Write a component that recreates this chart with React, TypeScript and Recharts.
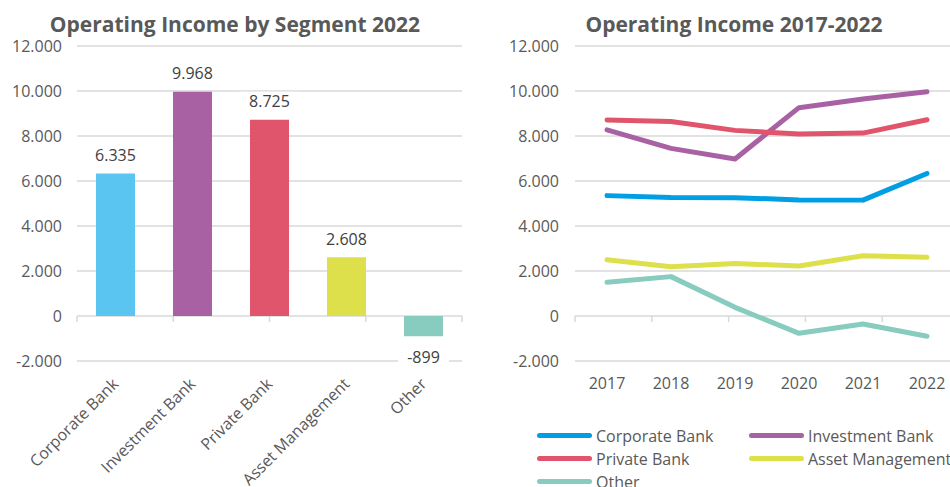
import React from 'react';
import {
  BarChart, Bar, XAxis, YAxis, CartesianGrid, LabelList, Cell,
  LineChart, Line, Legend, ReferenceLine,
} from 'recharts';

const segments = ['Corporate Bank', 'Investment Bank', 'Private Bank', 'Asset Management', 'Other'];
const income2022 = [6335, 9968, 8725, 2608, -899];
const barColors = ['#5bc5f2', '#a862a4', '#e0556b', '#dde04a', '#88cbbf'];

const years = ['2017', '2018', '2019', '2020', '2021', '2022'];
const corporateBank = [5350, 5270, 5260, 5160, 5150, 6335];
const investmentBank = [8270, 7450, 6980, 9260, 9640, 9968];
const privateBank = [8710, 8640, 8250, 8090, 8130, 8725];
const assetManagement = [2500, 2190, 2330, 2220, 2680, 2608];
const other = [1500, 1750, 385, -770, -356, -899];
const lineColors = ['#009ee2', '#a862a4', '#e0556b', '#dde04a', '#88cbbf'];

const yTicks = [-2000, 0, 2000, 4000, 6000, 8000, 10000, 12000];
const barEdges = [0, 1, 2, 3, 4, 5];
const lineEdges = [0, 1, 2, 3, 4, 5];

const FONT = '"Open Sans", sans-serif';
const GRID = '#d9d9d9';
const TEXT = '#595959';
const FS = 16;

const fmt = (v: number) => {
  const s = Math.abs(Math.round(v)).toString().replace(/\B(?=(\d{3})+(?!\d))/g, '.');
  return (v < 0 ? '-' : '') + s;
};

const barData = segments.map((name, i) => ({ name, value: income2022[i] }));
const lineData = years.map((year, i) => ({
  year,
  'Corporate Bank': corporateBank[i],
  'Investment Bank': investmentBank[i],
  'Private Bank': privateBank[i],
  'Asset Management': assetManagement[i],
  Other: other[i],
}));
const lineKeys = ['Corporate Bank', 'Investment Bank', 'Private Bank', 'Asset Management', 'Other'];

const BarValueLabel = (props: any) => {
  const { x, y, width, height, value } = props;
  const text = fmt(value);
  const cx = x + width / 2;
  const w = text.length * 9.2 + 14;
  const neg = value < 0;
  const top = Math.min(y, y + height);
  const bottom = Math.max(y, y + height);
  const cy = neg ? bottom + 21 : top - 18;
  return (
    <g>
      <rect x={cx - w / 2} y={cy - 10} width={w} height={20} fill="#ffffff" />
      <text x={cx} y={cy} dy="0.35em" textAnchor="middle" fontFamily={FONT} fontSize={FS} fill="#404040">
        {text}
      </text>
    </g>
  );
};

const RotatedTick = (props: any) => {
  const { x, y, payload } = props;
  const ax = x + 4;
  const ay = y + 24;
  return (
    <text
      x={ax}
      y={ay}
      transform={`rotate(-45, ${ax}, ${ay})`}
      textAnchor="end"
      fontFamily={FONT}
      fontSize={FS}
      fill={TEXT}
    >
      {payload.value}
    </text>
  );
};

const LegendContent = (props: any) => {
  const { payload } = props;
  const items = [...(payload || [])].sort(
    (a: any, b: any) => lineKeys.indexOf(a.value) - lineKeys.indexOf(b.value)
  );
  return (
    <div style={{ display: 'grid', gridTemplateColumns: '212px 212px', rowGap: 0 }}>
      {items.map((p: any) => (
        <div key={p.value} style={{ display: 'flex', alignItems: 'center', height: 23 }}>
          <div style={{ width: 55, height: 5, borderRadius: 3, background: p.color, marginRight: 4, flexShrink: 0 }} />
          <span style={{ fontFamily: FONT, fontSize: FS, color: TEXT, whiteSpace: 'nowrap' }}>{p.value}</span>
        </div>
      ))}
    </div>
  );
};

const titleStyle: React.CSSProperties = {
  position: 'absolute',
  top: 10,
  fontFamily: FONT,
  fontWeight: 700,
  fontSize: 21,
  lineHeight: '28px',
  color: TEXT,
  whiteSpace: 'nowrap',
  textAlign: 'center',
};

export default function App() {
  return (
    <div style={{ position: 'absolute', left: 0, top: 0, width: 950, height: 487, overflow: 'hidden', background: '#fff' }}>
      <div style={{ ...titleStyle, left: 0, width: 470 }}>Operating Income by Segment 2022</div>
      <div style={{ ...titleStyle, left: 484, width: 500 }}>Operating Income 2017-2022</div>

      <div style={{ position: 'absolute', left: 0, top: 0 }}>
        <BarChart width={475} height={487} data={barData} margin={{ top: 46, right: 13, left: 0, bottom: 96 }}>
          <CartesianGrid vertical={false} stroke={GRID} strokeWidth={1.5} />
          <YAxis
            type="number"
            domain={[-2000, 12000]}
            ticks={yTicks}
            width={77}
            axisLine={false}
            tickLine={false}
            tickSize={0}
            tickMargin={15}
            tickFormatter={fmt}
            tick={{ fontFamily: FONT, fontSize: FS, fill: TEXT }}
            interval={0}
          />
          <XAxis
            dataKey="name"
            axisLine={false}
            tickLine={false}
            tickSize={0}
            tickMargin={0}
            height={30}
            interval={0}
            tick={<RotatedTick />}
          />
          <XAxis xAxisId="edge" type="number" domain={[0, 5]} hide height={0} />
          {barEdges.map((e) => (
            <ReferenceLine
              key={e}
              xAxisId="edge"
              segment={[{ x: e, y: 0 }, { x: e, y: -270 }]}
              stroke={GRID}
              strokeWidth={1.5}
            />
          ))}
          <Bar dataKey="value" barSize={39} isAnimationActive={false}>
            {barData.map((d, i) => (
              <Cell key={d.name} fill={barColors[i]} />
            ))}
            <LabelList dataKey="value" content={<BarValueLabel />} />
          </Bar>
        </BarChart>
      </div>

      <div style={{ position: 'absolute', left: 475, top: 0, width: 475, height: 487, overflow: 'hidden' }}>
        <LineChart width={484} height={487} data={lineData} margin={{ top: 46, right: 0, left: 0, bottom: 96 }}>
          <CartesianGrid vertical={false} stroke={GRID} strokeWidth={1.5} />
          <YAxis
            type="number"
            domain={[-2000, 12000]}
            ticks={yTicks}
            width={100}
            axisLine={false}
            tickLine={false}
            tickSize={0}
            tickMargin={16}
            tickFormatter={fmt}
            tick={{ fontFamily: FONT, fontSize: FS, fill: TEXT }}
            interval={0}
          />
          <XAxis
            dataKey="year"
            axisLine={false}
            tickLine={false}
            tickSize={0}
            tickMargin={17}
            height={30}
            padding={{ left: 32, right: 32 }}
            interval={0}
            tick={{ fontFamily: FONT, fontSize: FS, fill: TEXT }}
          />
          <XAxis xAxisId="edge" type="number" domain={[0, 6]} hide height={0} />
          {lineEdges.map((e) => (
            <ReferenceLine
              key={e}
              xAxisId="edge"
              segment={[{ x: e, y: 0 }, { x: e, y: -270 }]}
              stroke={GRID}
              strokeWidth={1.5}
            />
          ))}
          {lineKeys.map((k, i) => (
            <Line
              key={k}
              type="linear"
              dataKey={k}
              stroke={lineColors[i]}
              strokeWidth={5}
              strokeLinecap="round"
              strokeLinejoin="round"
              dot={false}
              activeDot={false}
              isAnimationActive={false}
            />
          ))}
          <Legend
            layout="vertical"
            align="center"
            verticalAlign="middle"
            content={<LegendContent />}
            wrapperStyle={{ position: 'absolute', left: 62, top: 424, width: 430 }}
          />
        </LineChart>
      </div>
    </div>
  );
}
